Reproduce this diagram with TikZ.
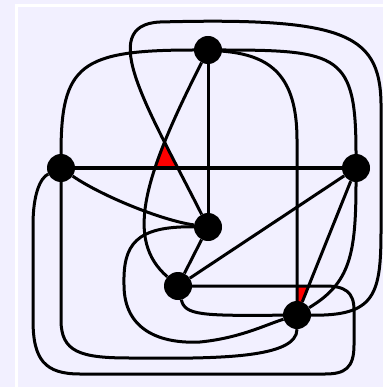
\documentclass[tikz,border=0pt]{standalone}
\usetikzlibrary{intersections,backgrounds}
\pgfdeclarelayer{fg}
\pgfsetlayers{background,main,fg}
\definecolor{bgc}{RGB}{242,240,255}
\begin{document}
\begin{tikzpicture}[x=1pt,y=-1pt,
  vert/.style={circle,fill=black,minimum size=28pt,inner sep=0pt},
  edge/.style={line width=3pt,black},
  face/.style={fill=red}]
\useasboundingbox (0,0) rectangle (383,387);
\begin{pgfonlayer}{background}
\fill[bgc] (0,0) rectangle (383,387);
\draw[white,line width=2.6pt] (16.5,387) -- (16.5,5.5) -- (383,5.5);
\end{pgfonlayer}
\begin{pgfonlayer}{fg}
\node[vert] (A) at (208,50) {};
\node[vert] (B) at (61,168) {};
\node[vert] (C) at (356,168) {};
\node[vert] (D) at (208,227) {};
\node[vert] (E) at (178,286) {};
\node[vert] (F) at (297,315) {};
\end{pgfonlayer}
% straight edges
\draw[edge] (A) -- (D);
\draw[edge,name path=bc] (B) -- (C);
\draw[edge] (C) -- (E);
\draw[edge] (D) -- (E);
\draw[edge] (C) -- (F);
% curved edges
\draw[edge] (A) .. controls (80,50) and (61,65) .. (B);
\draw[edge] (A) .. controls (340,50) and (356,55) .. (C);
\draw[edge] (A) .. controls (270,55) and (297,75) .. (297,140) -- (F);
\draw[edge,name path=ae] (A) .. controls (143,178) and (125,240) .. (E);
\draw[edge] (B) .. controls (100,195) and (160,220) .. (D);
\draw[edge] (C) .. controls (356,255) and (350,283) .. (F);
\draw[edge] (E) .. controls (185,315) and (200,316) .. (F);
\draw[edge] (D) .. controls (135,226) and (123,245) .. (124,285)
  .. controls (124,330) and (160,344) .. (200,342)
  .. controls (240,338) and (265,325) .. (F);
\draw[edge,name path=dtop] (D) .. controls (149,110) and (95,25) .. (160,22)
  .. controls (350,17) and (382,35) .. (381,110) -- (381,230)
  .. controls (381,295) and (375,316) .. (F);
\draw[edge] (B) .. controls (40,178) and (33,195) .. (33,225) -- (33,320)
  .. controls (33,360) and (45,374) .. (80,374) -- (325,374)
  .. controls (345,374) and (354,368) .. (354,345) -- (354,310)
  .. controls (354,292) and (345,286) .. (325,286) -- (E);
\draw[edge] (B) -- (61,320) .. controls (61,352) and (80,358) .. (130,358)
  .. controls (220,359) and (297,358) .. (F);
% faces
\path[name intersections={of=ae and bc, by=ta}];
\path[name intersections={of=dtop and bc, by=tb}];
\path[name intersections={of=ae and dtop, by=tc}];
\begin{pgfonlayer}{background}
\fill[face] (ta) -- (tb) -- (tc) -- cycle;
\fill[face] (297,286) -- (308.6,286) -- (297,315) -- cycle;
\end{pgfonlayer}
\end{tikzpicture}
\end{document}
